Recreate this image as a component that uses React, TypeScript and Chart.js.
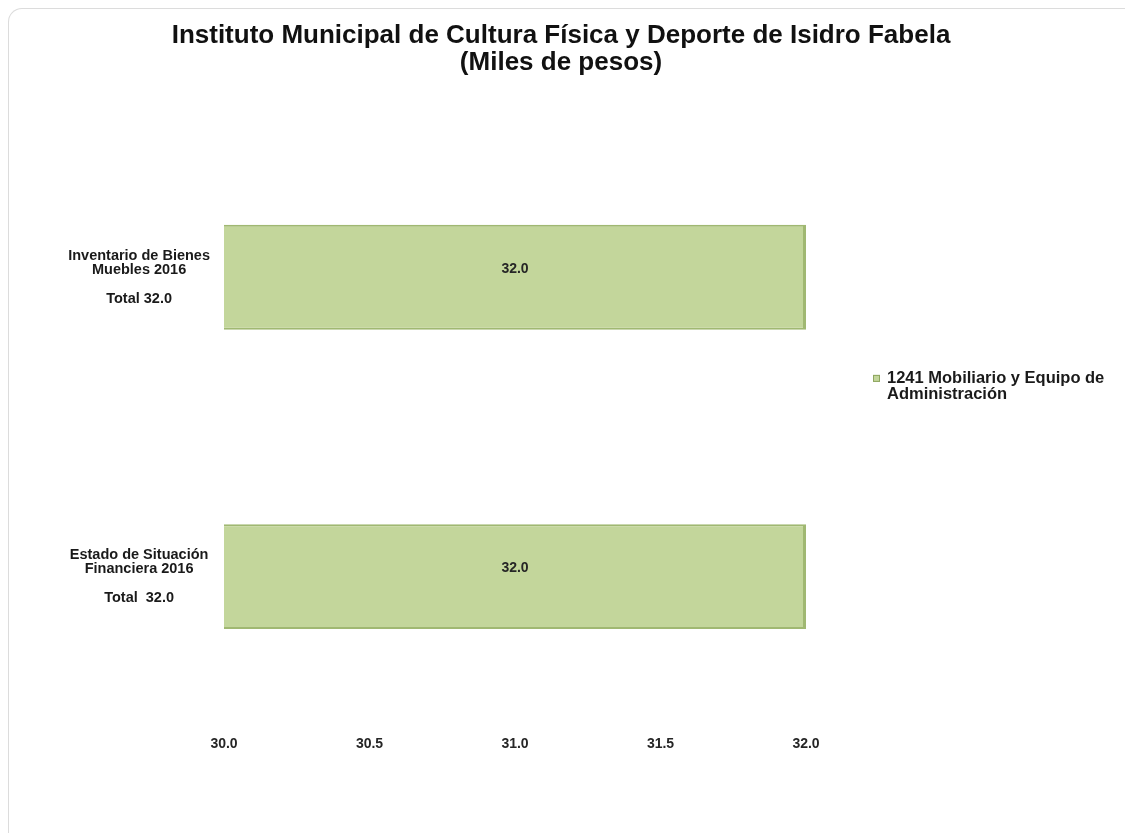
import React, { useEffect, useRef } from "react";
import { Chart, registerables } from "chart.js";

Chart.register(...registerables);

const titleLines = [
  "Instituto Municipal de Cultura Física y Deporte de Isidro Fabela",
  "(Miles de pesos)",
];
const categories = [
  ["Inventario de Bienes", "Muebles 2016", "", "Total 32.0"],
  ["Estado de Situación", "Financiera 2016", "", "Total  32.0"],
];
const seriesName = "1241 Mobiliario y Equipo de Administración";
const legendLines = ["1241 Mobiliario y Equipo de", "Administración"];
const values = [32.0, 32.0];
const axisMin = 30;
const axisMax = 32;
const axisStep = 0.5;

const FONT = "'Liberation Sans', Arial, sans-serif";

const valueLabelPlugin = {
  id: "barValueText",
  afterDraw(chart: any) {
    const ctx = chart.ctx;
    const xs = chart.scales.x;
    const ys = chart.scales.y;
    ctx.save();
    ctx.font = `bold 14px ${FONT}`;
    ctx.fillStyle = "#262626";
    ctx.textAlign = "center";
    ctx.textBaseline = "middle";
    values.forEach((v, i) => {
      const x0 = xs.getPixelForValue(axisMin);
      const x1 = xs.getPixelForValue(v);
      const cy = ys.getPixelForValue(i);
      ctx.fillText(v.toFixed(1), (x0 + x1) / 2, cy - 8);
    });
    ctx.restore();
  },
};

const legendPlugin = {
  id: "sideLegend",
  afterDraw(chart: any) {
    const ctx = chart.ctx;
    const area = chart.chartArea;
    const bx = area.right + 67;
    const by = (area.top + area.bottom) / 2 - 52;
    ctx.save();
    ctx.fillStyle = "#c3d69b";
    ctx.strokeStyle = "#8ea65f";
    ctx.lineWidth = 1;
    ctx.fillRect(bx, by, 7, 7);
    ctx.strokeRect(bx + 0.5, by + 0.5, 6, 6);
    ctx.font = `bold 16.5px ${FONT}`;
    ctx.fillStyle = "#1a1a1a";
    ctx.textAlign = "left";
    ctx.textBaseline = "middle";
    legendLines.forEach((line, i) => {
      ctx.fillText(line, bx + 14, by + 4 + i * 16);
    });
    ctx.restore();
  },
};

export default function App() {
  const ref = useRef<HTMLCanvasElement>(null);
  useEffect(() => {
    if (!ref.current) return;
    const chart = new Chart(ref.current, {
      type: "bar",
      data: {
        labels: categories,
        datasets: [
          {
            label: seriesName,
            data: values,
            backgroundColor: "#c3d69b",
            borderColor: "#a0b872",
            borderWidth: { top: 2, left: 2, bottom: 2, right: 3 },
            borderSkipped: false,
            categoryPercentage: 0.7,
            barPercentage: 0.5,
          },
        ],
      },
      options: {
        indexAxis: "y",
        animation: false,
        responsive: false,
        maintainAspectRatio: false,
        layout: { padding: { left: 0, right: 20, top: 0, bottom: 70 } },
        plugins: {
          legend: { display: false },
          tooltip: { enabled: false },
          title: {
            display: true,
            text: titleLines,
            color: "#111",
            font: { family: FONT, size: 26, weight: "bold", lineHeight: 1.05 },
            padding: { top: 13, bottom: 51 },
          },
        },
        scales: {
          x: {
            min: axisMin,
            max: axisMax,
            grid: { display: false, drawTicks: false },
            border: { display: false },
            ticks: {
              stepSize: axisStep,
              padding: 10,
              color: "#262626",
              font: { family: FONT, size: 14, weight: "bold" },
              callback: (v: any) => Number(v).toFixed(1),
            },
          },
          y: {
            grid: { display: false, drawTicks: false },
            border: { display: false },
            afterFit: (s: any) => {
              s.width = 215;
            },
            ticks: {
              crossAlign: "center",
              padding: 14,
              color: "#1a1a1a",
              font: { family: FONT, size: 14.5, weight: "bold", lineHeight: 1.0 },
            },
          },
          y2: {
            position: "right",
            display: true,
            grid: { display: false, drawTicks: false },
            border: { display: false },
            ticks: { display: false },
            afterFit: (s: any) => {
              s.width = 307;
            },
          },
        },
      },
      plugins: [valueLabelPlugin, legendPlugin],
    } as any);
    return () => chart.destroy();
  }, []);

  return (
    <div
      style={{
        width: 1125,
        height: 825,
        boxSizing: "border-box",
        borderTop: "1px solid #dcdcdc",
        borderLeft: "1px solid #dcdcdc",
        borderTopLeftRadius: 14,
        background: "#fff",
        overflow: "hidden",
      }}
    >
      <canvas ref={ref} width={1124} height={824} style={{ display: "block" }} />
    </div>
  );
}
